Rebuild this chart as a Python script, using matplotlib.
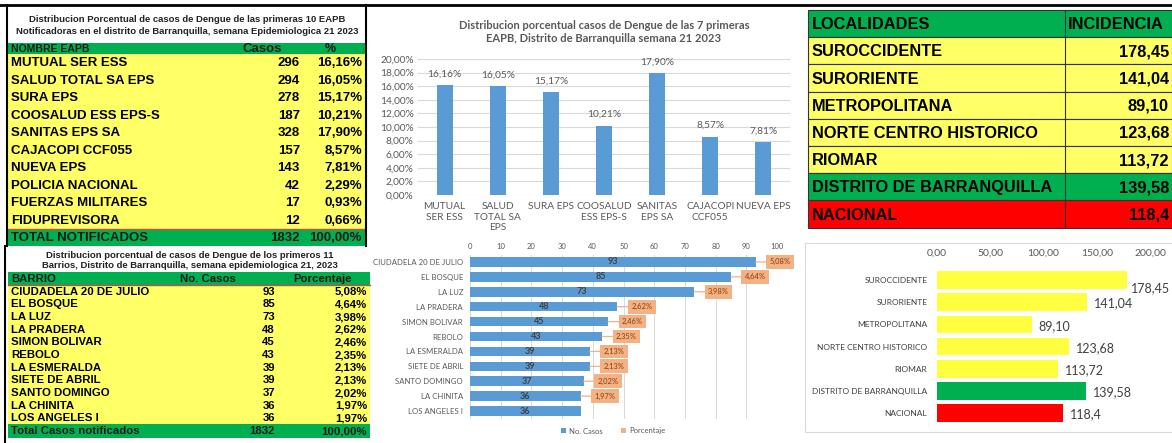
"""
Dengue dashboard, Barranquilla, semana epidemiologica 21 2023.
Tables and charts are placed on a single canvas in pixel units.
"""

import matplotlib
matplotlib.use('Agg')
import matplotlib.pyplot as plt
from matplotlib.patches import Rectangle
from matplotlib import font_manager

W, H = 1172, 443

# ---- data ----
eapb_names = ['MUTUAL SER ESS', 'SALUD TOTAL SA EPS', 'SURA EPS', 'COOSALUD ESS EPS-S',
              'SANITAS EPS SA', 'CAJACOPI CCF055', 'NUEVA EPS', 'POLICIA NACIONAL',
              'FUERZAS MILITARES', 'FIDUPREVISORA']
eapb_cases = [296, 294, 278, 187, 328, 157, 143, 42, 17, 12]
eapb_pct = [16.16, 16.05, 15.17, 10.21, 17.90, 8.57, 7.81, 2.29, 0.93, 0.66]
eapb_total = 1832

top7_labels = ['MUTUAL\nSER ESS', 'SALUD\nTOTAL SA\nEPS', 'SURA EPS', 'COOSALUD\nESS EPS-S',
               'SANITAS\nEPS SA', 'CAJACOPI\nCCF055', 'NUEVA EPS']
top7_pct = eapb_pct[:7]

barrios = ['CIUDADELA 20 DE JULIO', 'EL BOSQUE', 'LA LUZ', 'LA PRADERA', 'SIMON BOLIVAR',
           'REBOLO', 'LA ESMERALDA', 'SIETE DE ABRIL', 'SANTO DOMINGO', 'LA CHINITA',
           'LOS ANGELES I']
barrio_cases = [93, 85, 73, 48, 45, 43, 39, 39, 37, 36, 36]
barrio_pct = [5.08, 4.64, 3.98, 2.62, 2.46, 2.35, 2.13, 2.13, 2.02, 1.97, 1.97]
barrio_total = 1832

localidades = ['SUROCCIDENTE', 'SURORIENTE', 'METROPOLITANA', 'NORTE CENTRO HISTORICO',
               'RIOMAR', 'DISTRITO DE BARRANQUILLA', 'NACIONAL']
incidencia = [178.45, 141.04, 89.10, 123.68, 113.72, 139.58, 118.4]
incidencia_labels = ['178,45', '141,04', '89,10', '123,68', '113,72', '139,58', '118,4']

GREEN = '#00B050'
YELLOW = '#FFFF66'
RED = '#FF0000'
BLUE = '#5B9BD5'
ORANGE = '#F4B183'
GREY = '#595959'


def has_font(name):
    try:
        font_manager.findfont(font_manager.FontProperties(family=name), fallback_to_default=False)
        return True
    except ValueError:
        return False


ARIAL = 'Liberation Sans'
NARROW = 'Liberation Sans Narrow' if has_font('Liberation Sans Narrow') else 'Liberation Sans'
NARROW_SIZE = 13.5 if NARROW == 'Liberation Sans Narrow' else 11.8
CHART = 'Lato' if has_font('Lato') else 'DejaVu Sans'


def pct(v):
    return f'{v:.2f}%'.replace('.', ',')


def px_axes(fig, x, y, w, h, **kw):
    return fig.add_axes([x / W, 1 - (y + h) / H, w / W, h / H], **kw)


fig = plt.figure(figsize=(W / 100, H / 100), dpi=100, facecolor='white')

# canvas for the tables, in pixel coordinates
cv = px_axes(fig, 0, 0, W, H, zorder=0)
cv.set_xlim(0, W)
cv.set_ylim(H, 0)
cv.axis('off')

cv.plot([0, W], [5, 5], color='black', lw=2)

# ---- table 1: EAPB ----
x0, x1 = 8, 365
cv.text(187, 19, 'Distribucion Porcentual de casos de Dengue de las primeras 10 EAPB',
        ha='center', va='center', fontsize=6.8, fontweight='bold', family=ARIAL, color='#222222')
cv.text(187, 31, 'Notificadoras en el distrito de Barranquilla, semana Epidemiologica 21 2023',
        ha='center', va='center', fontsize=6.8, fontweight='bold', family=ARIAL, color='#222222')
hy0, hy1 = 43, 54
cv.add_patch(Rectangle((x0, hy0), x1 - x0, hy1 - hy0, fc=GREEN, ec='none'))
cv.text(11, (hy0 + hy1) / 2, 'NOMBRE EAPB', ha='left', va='center', fontsize=7.5,
        fontweight='bold', family=ARIAL, color='#1a1a1a')
cv.text(262, (hy0 + hy1) / 2, 'Casos', ha='center', va='center', fontsize=9.5,
        fontweight='bold', family=ARIAL, color='#1a1a1a')
cv.text(330, (hy0 + hy1) / 2, '%', ha='center', va='center', fontsize=9,
        fontweight='bold', family=ARIAL, color='#1a1a1a')
row_h = 17.5
for i, (name, c, p) in enumerate(zip(eapb_names, eapb_cases, eapb_pct)):
    top = hy1 + i * row_h
    cv.add_patch(Rectangle((x0, top), x1 - x0, row_h, fc=YELLOW, ec='none'))
    yc = top + row_h / 2 + 0.5
    cv.text(11, yc, name, ha='left', va='center', fontsize=9.5, fontweight='bold', family=ARIAL)
    cv.text(300, yc, str(c), ha='right', va='center', fontsize=9.5, fontweight='bold', family=ARIAL)
    cv.text(362, yc, pct(p), ha='right', va='center', fontsize=9.5, fontweight='bold', family=ARIAL)
ty0 = hy1 + len(eapb_names) * row_h
cv.add_patch(Rectangle((x0, ty0), x1 - x0, 17, fc=GREEN, ec='none'))
cv.plot([x0, x1], [ty0, ty0], color='#C0504D', lw=1)
cv.text(11, ty0 + 9, 'TOTAL NOTIFICADOS', ha='left', va='center', fontsize=9.5,
        fontweight='bold', family=ARIAL, color='#1a1a1a')
cv.text(300, ty0 + 9, str(eapb_total), ha='right', va='center', fontsize=9.5,
        fontweight='bold', family=ARIAL, color='#1a1a1a')
cv.text(362, ty0 + 9, '100,00%', ha='right', va='center', fontsize=9.5,
        fontweight='bold', family=ARIAL, color='#1a1a1a')
cv.plot([6.5, 6.5], [5, ty0 + 17], color='black', lw=1.5)
cv.plot([366, 366], [5, ty0 + 17], color='black', lw=1.5)

# ---- table 2: barrios ----
x0, x1 = 8, 370
cv.text(190, 255, 'Distribucion porcentual de casos de Dengue de los primeros 11',
        ha='center', va='center', fontsize=6.8, fontweight='bold', family=ARIAL, color='#222222')
cv.text(190, 266, 'Barrios, Distrito de Barranquilla, semana epidemiologica 21, 2023',
        ha='center', va='center', fontsize=6.8, fontweight='bold', family=ARIAL, color='#222222')
hy0, hy1 = 272, 285
cv.add_patch(Rectangle((x0, hy0), x1 - x0, hy1 - hy0, fc=GREEN, ec='none'))
cv.plot([x0, x1], [hy1, hy1], color='#C0504D', lw=1)
cv.text(11, (hy0 + hy1) / 2, 'BARRIO', ha='left', va='center', fontsize=8.2,
        fontweight='bold', family=ARIAL, color='#1a1a1a')
cv.text(208, (hy0 + hy1) / 2, 'No. Casos', ha='center', va='center', fontsize=8.2,
        fontweight='bold', family=ARIAL, color='#1a1a1a')
cv.text(323, (hy0 + hy1) / 2, 'Porcentaje', ha='center', va='center', fontsize=8.2,
        fontweight='bold', family=ARIAL, color='#1a1a1a')
row_h = 12.66
for i, (name, c, p) in enumerate(zip(barrios, barrio_cases, barrio_pct)):
    top = hy1 + i * row_h
    cv.add_patch(Rectangle((x0, top), x1 - x0, row_h, fc=YELLOW, ec='none'))
    yc = top + row_h / 2 + 0.5
    cv.text(11, yc, name, ha='left', va='center', fontsize=8.2, fontweight='bold', family=ARIAL)
    cv.text(275, yc, str(c), ha='right', va='center', fontsize=8.2, fontweight='bold', family=ARIAL)
    cv.text(367, yc, pct(p), ha='right', va='center', fontsize=8.2, fontweight='bold', family=ARIAL)
ty0 = hy1 + len(barrios) * row_h
cv.add_patch(Rectangle((x0, ty0), x1 - x0, 13.5, fc=GREEN, ec='none'))
cv.text(11, ty0 + 7, 'Total Casos notificados', ha='left', va='center', fontsize=8.2,
        fontweight='bold', family=ARIAL, color='#1a1a1a')
cv.text(275, ty0 + 7, str(barrio_total), ha='right', va='center', fontsize=8.2,
        fontweight='bold', family=ARIAL, color='#1a1a1a')
cv.text(367, ty0 + 7, '100,00%', ha='right', va='center', fontsize=8.2,
        fontweight='bold', family=ARIAL, color='#1a1a1a')
cv.plot([5, 5], [246, H], color='black', lw=1.5)

# ---- table 3: localidades ----
x0, xs, x1 = 808, 1065, 1172
top, row_h = 10, 27.2
fills = [YELLOW] * 5 + [GREEN, RED]
rows = [('LOCALIDADES', 'INCIDENCIA', GREEN)] + list(zip(localidades, incidencia_labels, fills))
for i, (name, val, fc) in enumerate(rows):
    y = top + i * row_h
    cv.add_patch(Rectangle((x0, y), x1 - x0, row_h, fc=fc, ec='#333333', lw=0.8))
    cv.plot([xs, xs], [y, y + row_h], color='#333333', lw=0.8)
    yc = y + row_h / 2 + 1
    cv.text(812, yc, name, ha='left', va='center', fontsize=NARROW_SIZE, fontweight='bold',
            family=NARROW)
    if i == 0:
        cv.text(1068, yc, val, ha='left', va='center', fontsize=NARROW_SIZE, fontweight='bold',
                family=NARROW)
    else:
        cv.text(1169, yc, val, ha='right', va='center', fontsize=NARROW_SIZE, fontweight='bold',
                family=NARROW)

# ---- chart 1: top 7 EAPB ----
ax1 = px_axes(fig, 418, 59, 372, 136, zorder=2)
ax1.set_facecolor('none')
x = range(len(top7_pct))
ax1.bar(x, [p / 100 for p in top7_pct], width=0.3, color=BLUE, zorder=3)
ax1.set_xlim(-0.5, len(top7_pct) - 0.5)
ax1.set_ylim(0, 0.20)
ax1.set_yticks([i / 100 for i in range(0, 21, 2)])
ax1.set_yticklabels([pct(i) for i in range(0, 21, 2)], fontsize=7.3, color=GREY, family=CHART)
ax1.set_xticks(list(x))
ax1.set_xticklabels(top7_labels, fontsize=7.3, color=GREY, family=CHART, linespacing=1.25)
ax1.tick_params(length=0, pad=5)
ax1.tick_params(axis='y', pad=3)
ax1.grid(axis='y', color='#D9D9D9', lw=0.8, zorder=0)
for s in ax1.spines.values():
    s.set_visible(False)
for i, p in enumerate(top7_pct):
    ax1.annotate(pct(p), (i, p / 100), xytext=(0, 8), textcoords='offset points',
                 ha='center', va='center', fontsize=7.3, color=GREY, family=CHART)
ax1.set_title('Distribucion porcentual casos de Dengue de las 7 primeras\n'
              'EAPB, Distrito de Barranquilla semana 21 2023',
              fontsize=8, fontweight='bold', color=GREY, family=CHART, pad=12, linespacing=1.3)

# ---- chart 2: barrios ----
ax2 = px_axes(fig, 470, 254.5, 307, 164, zorder=2)
ax2.set_facecolor('none')
y = range(len(barrios))
ax2.barh(y, barrio_cases, height=0.64, color=BLUE, zorder=3, label='No. Casos')
ax2.set_xlim(0, 100)
ax2.set_ylim(len(barrios) - 0.5, -0.5)
ax2.set_xticks(range(0, 101, 10))
ax2.xaxis.tick_top()
ax2.set_xticklabels([str(v) for v in range(0, 101, 10)], fontsize=5.5, color=GREY, family=CHART)
ax2.set_yticks(list(y))
ax2.set_yticklabels(barrios, fontsize=5.6, color=GREY, family=CHART)
ax2.tick_params(length=0)
ax2.tick_params(axis='y', pad=5)
ax2.tick_params(axis='x', pad=3)
ax2.grid(axis='x', color='#D9D9D9', lw=0.7, zorder=0)
for s in ax2.spines.values():
    s.set_visible(False)
for i, (c, p) in enumerate(zip(barrio_cases, barrio_pct)):
    ax2.text(c / 2, i, str(c), ha='center', va='center', fontsize=6.5, fontweight='bold',
             color='#404040', family=CHART, zorder=4)
    if i < len(barrios) - 1:
        ax2.annotate(pct(p), (c, i), xytext=(10, 0), textcoords='offset points',
                     ha='left', va='center', fontsize=5.4, color='#843C0C', family=CHART,
                     bbox=dict(boxstyle='square,pad=0.45', fc=ORANGE, ec='none'),
                     arrowprops=dict(arrowstyle='-', color=ORANGE, lw=0.9,
                                     shrinkA=0, shrinkB=0), zorder=4)
ax2.bar([0], [0], color=ORANGE, label='Porcentaje')
ax2.legend(loc='center', bbox_to_anchor=(613 / W, 1 - 431 / H), bbox_transform=fig.transFigure,
           ncol=2, frameon=False, handlelength=0.6, handleheight=0.6,
           columnspacing=2.5, handletextpad=0.4, labelcolor=GREY,
           prop={'family': CHART, 'size': 5.5})

# ---- chart 3: incidencia ----
cv.add_patch(Rectangle((805, 243), W - 805 + 2, 189, fc='none', ec='#D9D9D9', lw=0.8))
ax3 = px_axes(fig, 937, 269, 213, 155, zorder=2)
ax3.set_facecolor('none')
y = range(len(localidades))
ax3.barh(y, incidencia, height=0.8, color=['#FFFF40'] * 5 + [GREEN, RED], zorder=3)
ax3.set_xlim(0, 200)
ax3.set_ylim(len(localidades) - 0.5, -0.5)
ax3.set_xticks(range(0, 201, 50))
ax3.xaxis.tick_top()
ax3.set_xticklabels([f'{v},00' for v in range(0, 201, 50)], fontsize=7.5, color=GREY, family=CHART)
ax3.set_yticks(list(y))
ax3.set_yticklabels(localidades, fontsize=6, color='#404040', family=CHART)
ax3.tick_params(length=0)
ax3.tick_params(axis='y', pad=7)
ax3.tick_params(axis='x', pad=8)
for s in ax3.spines.values():
    s.set_visible(False)
imax = incidencia.index(max(incidencia))
for i, (v, lab) in enumerate(zip(incidencia, incidencia_labels)):
    dx, dy = (3, -6) if i == imax else (5, -1)
    ax3.annotate(lab, (v, i), xytext=(dx, dy), textcoords='offset points',
                 ha='left', va='center', fontsize=9, color='#404040', family=CHART)

fig.savefig('out.png', dpi=100, facecolor='white')
